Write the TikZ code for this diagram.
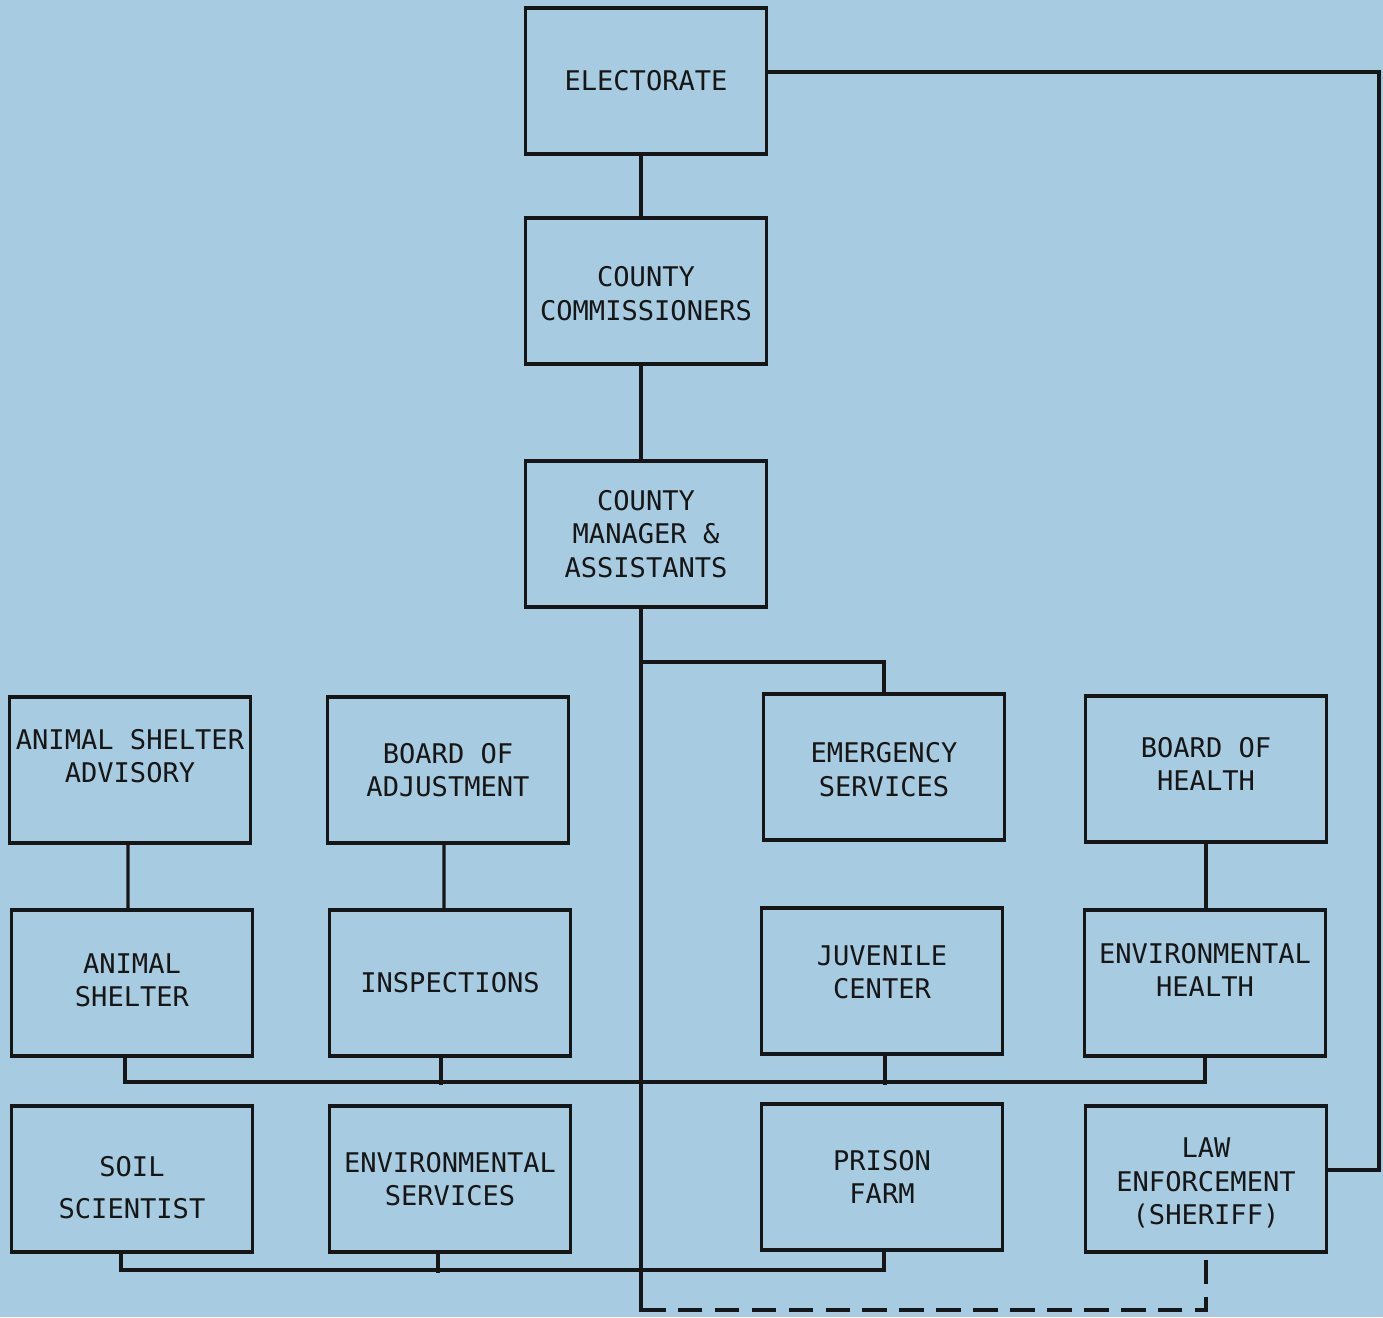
\documentclass[tikz,border=0pt]{standalone}
\usepackage{fontspec}
\setmonofont{DejaVu Sans Mono}
\usepackage{tikz}
\usetikzlibrary{calc}

\definecolor{paper}{RGB}{167,203,224}
\definecolor{ink}{RGB}{22,22,22}

% struts to nudge the lines of a box up or down
\newcommand{\padabove}[1]{\rule{0pt}{#1}}
\newcommand{\padbelow}[1]{\rule[-#1]{0pt}{#1}}

\begin{document}
\begin{tikzpicture}[
    x=0.01cm,
    y=-0.01cm,
    office/.style={
        draw=ink,
        line width=0.95pt,
        minimum width=2.41cm,
        minimum height=1.46cm,
        align=center,
        inner sep=1pt,
        text=ink,
        font=\ttfamily\fontsize{7.7}{9.5}\selectfont
    },
    link/.style={
        draw=ink,
        line width=0.9pt,
        line cap=rect
    },
    dashlink/.style={
        draw=ink,
        line width=0.9pt,
        dash pattern=on 7pt off 3.5pt
    }
]

% =====================================================
% Paper
% =====================================================

\fill[paper] (0,0) rectangle (1383,1317);
\useasboundingbox (0,0) rectangle (1383,1317);

% =====================================================
% Top of the chart
% =====================================================

\node[office] (elect)   at (646,81)  {ELECTORATE};
\node[office] (commis)  at (646,291) {\padabove{7.3pt}COUNTY\\COMMISSIONERS};
\node[office] (manager) at (646,534) {COUNTY\\MANAGER \&\\ASSISTANTS};

% =====================================================
% Boards
% =====================================================

\node[office] (asadv)    at (130,770)  {ANIMAL SHELTER\\ADVISORY\padbelow{8pt}};
\node[office] (bdadj)    at (448,770)  {BOARD OF\\ADJUSTMENT};
\node[office] (emerg)    at (884,767)  {\padabove{7.3pt}EMERGENCY\\SERVICES};
\node[office] (bdhealth) at (1206,769) {BOARD OF\\HEALTH\padbelow{2.8pt}};

% =====================================================
% Departments
% =====================================================

\node[office] (ashelter)  at (132,983)  {ANIMAL\\SHELTER\padbelow{1.7pt}};
\node[office] (inspect)   at (450,983)  {INSPECTIONS};
\node[office] (juvenile)  at (882,981)  {JUVENILE\\CENTER\padbelow{5.1pt}};
\node[office] (envhealth) at (1205,983) {ENVIRONMENTAL\\HEALTH\padbelow{7.4pt}};

\node[office] (soil)    at (132,1179)  {\padabove{10.7pt}SOIL\\[2.3pt]SCIENTIST};
\node[office] (envserv) at (450,1179)  {ENVIRONMENTAL\\SERVICES};
\node[office] (prison)  at (882,1177)  {PRISON\\FARM};
\node[office] (lawenf)  at (1206,1179) {\padabove{7.9pt}LAW\\ENFORCEMENT\\(SHERIFF)};

% =====================================================
% Helper points
% =====================================================

\coordinate (trunk)   at (641,0);
\coordinate (tapE)    at (641,662);
\coordinate (busA)    at (0,1082);
\coordinate (busB)    at (0,1270);
\coordinate (rail)    at (1379,0);
\coordinate (dashend) at (641,1310);

\coordinate (electout) at ([yshift=0.09cm]elect.east);
\coordinate (lawin)    at ([yshift=0.09cm]lawenf.east);
\coordinate (prisonup) at ([xshift=0.02cm]prison.south);

% =====================================================
% Main line
% =====================================================

\draw[link] (elect.south -| trunk) -- (commis.north -| trunk);
\draw[link] (commis.south -| trunk) -- (manager.north -| trunk);
\draw[link] (manager.south -| trunk) -- (dashend);

\draw[link] (tapE) -| (emerg.north);

\draw[link] (electout) -| (rail |- lawin) -- (lawin);

% =====================================================
% Boards to departments
% =====================================================

\draw[link] ([xshift=-0.02cm]asadv.south) -- ([xshift=-0.04cm]ashelter.north);
\draw[link] ([xshift=-0.04cm]bdadj.south) -- ([xshift=-0.06cm]inspect.north);
\draw[link] (bdhealth.south) -- ([xshift=0.01cm]envhealth.north);

% =====================================================
% Bus lines
% =====================================================

\draw[link] ([xshift=-0.07cm]ashelter.south) |- (busA -| envhealth.south) -- (envhealth.south);
\draw[link] ([xshift=-0.09cm]inspect.south) -- +(0,26);
\draw[link] ([xshift=0.03cm]juvenile.south) -- +(0,28);

\draw[link] ([xshift=-0.11cm]soil.south) |- (busB -| prisonup) -- (prisonup);
\draw[link] ([xshift=-0.12cm]envserv.south) -- +(0,18);

\draw[dashlink] ([yshift=-0.06cm]lawenf.south) |- (dashend);

\end{tikzpicture}
\end{document}
